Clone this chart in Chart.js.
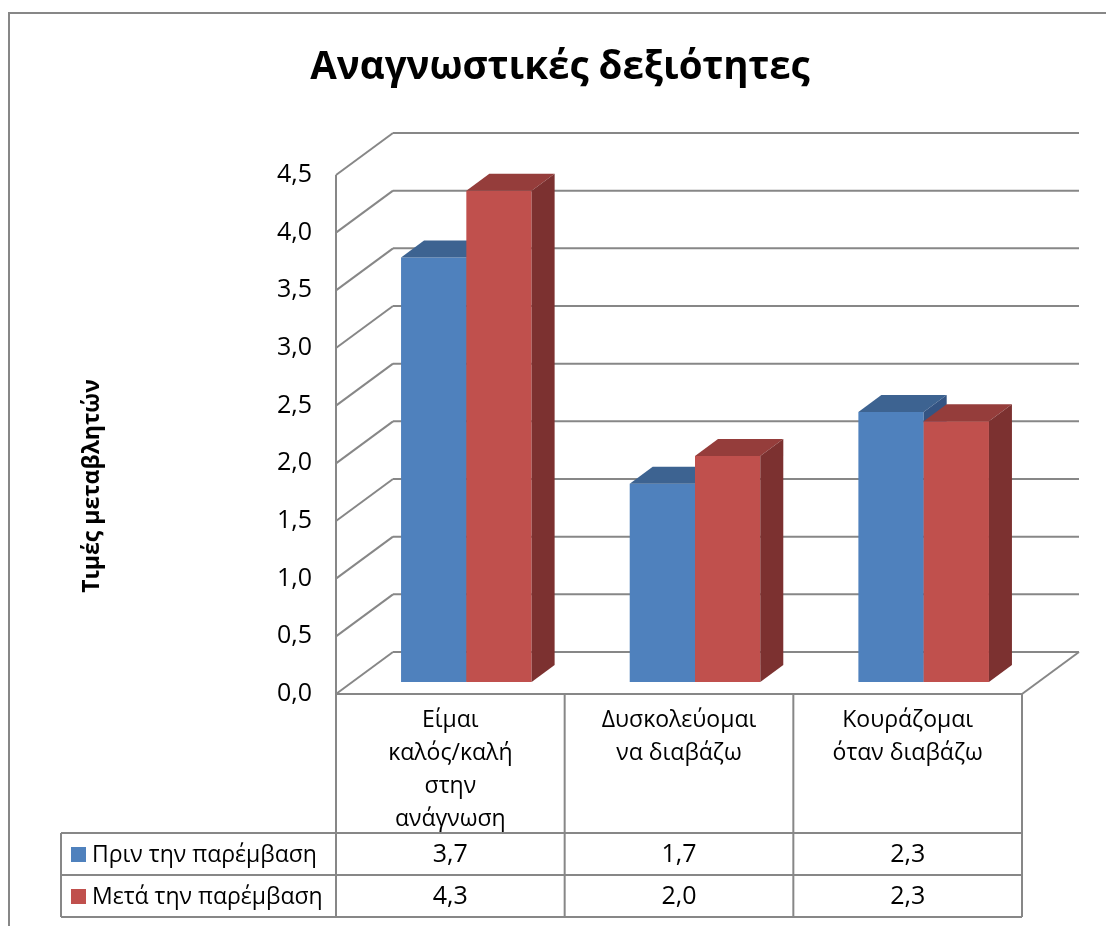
<!DOCTYPE html>
<html>
<head>
<meta charset="utf-8">
<script src="https://cdn.jsdelivr.net/npm/chart.js@4.4.0/dist/chart.umd.min.js"></script>
<style>
  html, body { margin: 0; padding: 0; background: #fff; }
</style>
</head>
<body>
<canvas id="chart" width="1106" height="926"></canvas>
<script>
// ---------- Data ----------
const chartTitle = 'Αναγνωστικές δεξιότητες';
const axisTitle = 'Τιμές μεταβλητών';
const categories = [
  ['Είμαι', 'καλός/καλή', 'στην', 'ανάγνωση'],
  ['Δυσκολεύομαι', 'να διαβάζω'],
  ['Κουράζομαι', 'όταν διαβάζω']
];
const seriesNames = ['Πριν την παρέμβαση', 'Μετά την παρέμβαση'];
const beforeValues = [3.68, 1.72, 2.34];
const afterValues = [4.26, 1.96, 2.26];
const yTickValues = [0, 0.5, 1, 1.5, 2, 2.5, 3, 3.5, 4, 4.5];

// ---------- Look ----------
const FONT = '"Open Sans", "Noto Sans", sans-serif';
const LINE = '#878787';
const faces = [
  { front: '#4F81BD', top: '#3D6391', side: '#345483' },
  { front: '#C0504D', top: '#953D3B', side: '#7C3130' }
];
const wallDepth = { x: 57, y: -42 };   // front plane -> back wall
const barShift = { x: 16, y: -12 };    // front plane -> front face of bars
const barDepth = { x: 23, y: -17 };    // thickness of each bar

const fmt = v => v.toFixed(1).replace('.', ',');

function line(ctx, x1, y1, x2, y2) {
  ctx.beginPath();
  ctx.moveTo(x1, y1);
  ctx.lineTo(x2, y2);
  ctx.stroke();
}

function poly(ctx, pts, color) {
  ctx.beginPath();
  ctx.moveTo(pts[0][0], pts[0][1]);
  for (let i = 1; i < pts.length; i++) ctx.lineTo(pts[i][0], pts[i][1]);
  ctx.closePath();
  ctx.fillStyle = color;
  ctx.fill();
}

// ---------- 3D walls, bars and data table ----------
const excel3d = {
  id: 'excel3d',
  beforeDraw(chart) {
    const ctx = chart.ctx;
    ctx.save();
    ctx.fillStyle = '#fff';
    ctx.fillRect(0, 0, chart.width, chart.height);
    ctx.strokeStyle = LINE;
    ctx.lineWidth = 2;
    ctx.beginPath();
    ctx.moveTo(9, chart.height);
    ctx.lineTo(9, 13);
    ctx.lineTo(chart.width, 13);
    ctx.stroke();
    ctx.restore();
  },
  beforeDatasetsDraw(chart) {
    const { ctx, chartArea: { left, right } } = chart;
    const y = chart.scales.y;
    const dx = wallDepth.x, dy = wallDepth.y;
    ctx.save();
    ctx.strokeStyle = LINE;
    ctx.lineWidth = 2;
    yTickValues.forEach(v => {
      const py = y.getPixelForValue(v);
      line(ctx, left, py, left + dx, py + dy);
      line(ctx, left + dx, py + dy, right + dx, py + dy);
    });
    const p0 = y.getPixelForValue(0);
    const pTop = y.getPixelForValue(yTickValues[yTickValues.length - 1]);
    line(ctx, left, pTop, left, p0);
    line(ctx, left, p0, right, p0);
    line(ctx, right, p0, right + dx, p0 + dy);
    ctx.restore();
  },
  // bars are painted below, left series first, so the 3D faces overlap correctly
  beforeDatasetDraw() {
    return false;
  },
  afterDatasetsDraw(chart) {
    const ctx = chart.ctx;
    const bx = barDepth.x, by = barDepth.y;
    ctx.save();
    ctx.translate(barShift.x, barShift.y);
    chart.data.datasets.forEach((ds, di) => {
      const c = faces[di];
      chart.getDatasetMeta(di).data.forEach(bar => {
        bar.draw(ctx);
        const { x, y, base, width } = bar.getProps(['x', 'y', 'base', 'width'], true);
        const l = x - width / 2, r = x + width / 2;
        poly(ctx, [[l, y], [r, y], [r + bx, y + by], [l + bx, y + by]], c.top);
        poly(ctx, [[r, y], [r + bx, y + by], [r + bx, base + by], [r, base]], c.side);
      });
    });
    ctx.restore();
  },
  afterDraw(chart) {
    const { ctx, chartArea: { left, right } } = chart;
    const y = chart.scales.y;
    const top = y.getPixelForValue(0);
    const colW = (right - left) / categories.length;
    const headBottom = top + 139;
    const rowH = 42;
    const legendLeft = 61;
    const bottom = headBottom + rowH * seriesNames.length;

    ctx.save();
    ctx.strokeStyle = LINE;
    ctx.lineWidth = 2;
    for (let i = 0; i <= categories.length; i++) {
      line(ctx, left + i * colW, top, left + i * colW, bottom);
    }
    line(ctx, legendLeft, headBottom, legendLeft, bottom);
    for (let r = 0; r <= seriesNames.length; r++) {
      line(ctx, legendLeft, headBottom + r * rowH, right, headBottom + r * rowH);
    }

    ctx.fillStyle = '#000';
    ctx.font = `23px ${FONT}`;
    ctx.textAlign = 'center';
    ctx.textBaseline = 'middle';
    categories.forEach((lines, i) => {
      const cx = chart.scales.x.getPixelForValue(i);
      lines.forEach((t, k) => ctx.fillText(t, cx, top + 26 + k * 33.3));
    });

    const series = [beforeValues, afterValues];
    seriesNames.forEach((name, r) => {
      const cy = headBottom + r * rowH + rowH / 2 + 1;
      ctx.fillStyle = faces[r].front;
      ctx.fillRect(71, cy - 8, 15, 15);
      ctx.fillStyle = '#000';
      ctx.font = `23px ${FONT}`;
      ctx.textAlign = 'left';
      ctx.fillText(name, 92, cy);
      ctx.textAlign = 'center';
      ctx.font = `25px ${FONT}`;
      series[r].forEach((v, i) => {
        ctx.fillText(fmt(v), chart.scales.x.getPixelForValue(i), cy);
      });
    });

    ctx.font = `bold 38.5px ${FONT}`;
    ctx.fillText(chartTitle, 560, 68);

    ctx.translate(92, 486);
    ctx.rotate(-Math.PI / 2);
    ctx.font = `bold 23px ${FONT}`;
    ctx.fillText(axisTitle, 0, 0);
    ctx.restore();
  }
};

new Chart(document.getElementById('chart'), {
  type: 'bar',
  data: {
    labels: categories,
    datasets: [
      { label: seriesNames[0], data: beforeValues, backgroundColor: faces[0].front },
      { label: seriesNames[1], data: afterValues, backgroundColor: faces[1].front }
    ]
  },
  options: {
    responsive: false,
    animation: false,
    devicePixelRatio: 1,
    layout: { padding: { left: 0, top: 175, right: 84, bottom: 232 } },
    datasets: { bar: { categoryPercentage: 0.571, barPercentage: 1, clip: false, borderWidth: 0 } },
    plugins: {
      legend: { display: false },
      title: { display: false },
      tooltip: { enabled: false }
    },
    scales: {
      x: { display: false },
      y: {
        min: 0,
        max: 4.5,
        afterBuildTicks: s => { s.ticks = yTickValues.map(v => ({ value: v })); },
        afterFit: s => { s.width = 336; },
        grid: { display: false, drawTicks: false },
        border: { display: false },
        ticks: {
          padding: 24,
          color: '#000',
          font: { family: FONT, size: 25 },
          callback: v => fmt(v)
        }
      }
    }
  },
  plugins: [excel3d]
});
</script>
</body>
</html>
